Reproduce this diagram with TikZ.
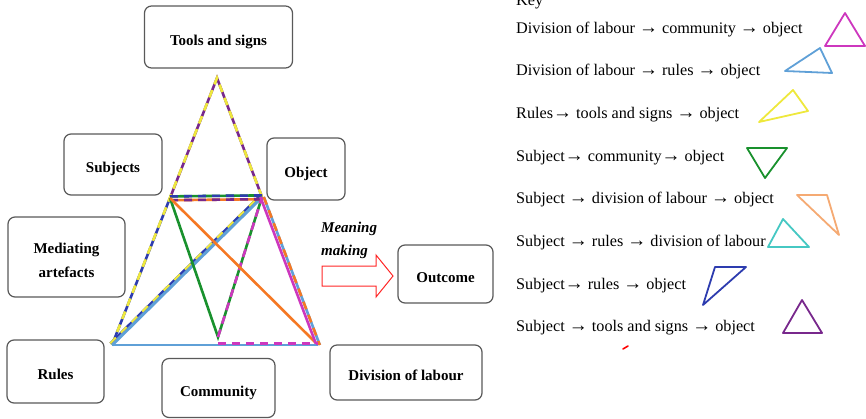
\documentclass[tikz,border=0pt]{standalone}
\usepackage{fontspec}
\setmainfont{Liberation Serif}
\usetikzlibrary{arrows.meta,positioning}

\definecolor{cpurple}{RGB}{120,40,140}
\definecolor{cyellow}{RGB}{238,232,60}
\definecolor{cdblue}{RGB}{45,60,175}
\definecolor{clblue}{RGB}{95,160,215}
\definecolor{cgreen}{RGB}{25,145,45}
\definecolor{corange}{RGB}{245,120,35}
\definecolor{cmagenta}{RGB}{205,55,190}
\definecolor{clorange}{RGB}{245,170,115}
\definecolor{ccyan}{RGB}{70,200,195}

\newcommand{\dn}[1]{\raisebox{-5pt}[\height][\depth]{\begin{tabular}{@{}c@{}}#1\end{tabular}}}
\newcommand{\kar}{{\bfseries\fontsize{19}{18}\selectfont →}}

\begin{document}
\begin{tikzpicture}[x=1pt,y=-1pt,>=Stealth]
    \tikzstyle{b}=[rectangle,draw=black!65,fill=white,line width=1.2pt,rounded corners=7pt,align=center,inner sep=0pt,font=\bfseries\fontsize{15}{17}\selectfont]
    \tikzstyle{ln}=[line width=2.6pt]
    \tikzstyle{dsh}=[line width=2.6pt,dash pattern=on 8pt off 6pt]
    \tikzstyle{kt}=[line width=1.8pt,line join=round]
    \useasboundingbox (0,0) rectangle (866,418);
    % boxes of the activity system
    \node[b,minimum width=148,minimum height=62] (tools) at (218.5,37) {\dn{Tools and signs}};
    \node[b,minimum width=98,minimum height=61] (subj) at (113,164.5) {\dn{Subjects}};
    \node[b,minimum width=78,minimum height=62] (objb) at (306,169) {\dn{Object}};
    \node[b,minimum width=117,minimum height=80] (med) at (66.5,257) {\dn{Mediating\\[7pt]artefacts}};
    \node[b,minimum width=97,minimum height=63] (rules) at (55.5,371.5) {\dn{Rules}};
    \node[b,minimum width=113,minimum height=59] (comm) at (218.5,388) {\dn{Community}};
    \node[b,minimum width=152,minimum height=55] (dol) at (406,372.5) {\dn{Division of labour}};
    \node[b,minimum width=95,minimum height=58] (out) at (445.5,274) {\dn{Outcome}};
    % corners of the triangle
    \coordinate (top) at (217,78);
    \coordinate (sub) at (170,198);
    \coordinate (obj) at (262,197);
    \coordinate (rul) at (112,345);
    \coordinate (div) at (318,345);
    \coordinate (com) at (218,337);
    \coordinate (comb) at (218,345);
    % sub-triangles
    \draw[ln,cpurple] (sub) -- (top) -- (obj);
    \draw[ln,cdblue] (sub) -- (rul);
    \draw[dsh,cyellow] (rul) -- (top) -- (obj);
    \draw[line width=3.2pt,clblue] (rul) -- (obj);
    \draw[line width=2pt,cdblue,transform canvas={shift={(-1.8,-1.8)}}] (rul) -- (obj);
    \draw[line width=2pt,cyellow,dash pattern=on 8pt off 7pt,transform canvas={shift={(-1.8,-1.8)}}] (rul) -- (obj);
    \draw[ln,cgreen,transform canvas={yshift=1.6pt}] (sub) -- (obj);
    \draw[dsh,cdblue,transform canvas={yshift=1.6pt}] (sub) -- (obj);
    \draw[ln,corange,transform canvas={yshift=-2.2pt}] (sub) -- (obj);
    \draw[dsh,cpurple,transform canvas={yshift=-2.2pt}] (sub) -- (obj);
    \draw[ln,cgreen] (sub) -- (com) -- (obj);
    \draw[dsh,cmagenta] (com) -- (obj);
    \draw[ln,corange] (sub) -- (div);
    \draw[ln,clblue,transform canvas={xshift=1.8pt}] (obj) -- (div);
    \draw[dsh,corange,transform canvas={xshift=1.8pt}] (obj) -- (div);
    \draw[ln,cmagenta,transform canvas={xshift=-1.6pt}] (obj) -- (div);
    \draw[ln,clblue] (rul) -- (div);
    \draw[dsh,cmagenta,transform canvas={yshift=1.6pt}] (comb) -- (div);
    % meaning making
    \node[anchor=north west,inner sep=0pt,align=left,font=\bfseries\itshape\fontsize{15}{23}\selectfont] (mm) at (321,222) {Meaning\\making};
    \draw[red!85,line width=1pt] (322,266) -- (376,266) -- (376,255) -- (393,276) -- (376,297) -- (376,286) -- (322,286) -- cycle;
    % key
    \node[anchor=base west,inner sep=0pt,font=\fontsize{16.2}{18}\selectfont] (key) at (516,5) {Key};
    \foreach \t [count=\i] in {Division of labour \kar{} community \kar{} object,
      Division of labour \kar{} rules \kar{} object,
      Rules\kar{} tools and signs \kar{} object,
      Subject\kar{} community\kar{} object,
      Subject \kar{} division of labour \kar{} object,
      Subject \kar{} rules \kar{} division of labour,
      Subject\kar{} rules \kar{} object,
      Subject \kar{} tools and signs \kar{} object}
      \node[anchor=base west,inner sep=0pt,font=\fontsize{16.2}{18}\selectfont] (k\i) at (516,{33+(\i-1)*42.7}) {\t};
    \draw[kt,cmagenta] (845,13) -- (825,46) -- (865,46) -- cycle;
    \draw[kt,clblue] (785,71) -- (820,48) -- (832,73) -- cycle;
    \draw[kt,cyellow] (759,122) -- (793,90) -- (808,111) -- cycle;
    \draw[kt,cgreen] (747,148) -- (787,148) -- (765,178) -- cycle;
    \draw[kt,clorange] (797,195) -- (827,195) -- (839,235) -- cycle;
    \draw[kt,ccyan] (768,247) -- (783,219) -- (809,247) -- cycle;
    \draw[kt,cdblue] (703,305) -- (715,267) -- (746,267) -- cycle;
    \draw[kt,cpurple] (783,333) -- (802,300) -- (822,333) -- cycle;
    \draw[red,line width=1.6pt,line cap=round] (623,349) -- (628,346);
\end{tikzpicture}
\end{document}
